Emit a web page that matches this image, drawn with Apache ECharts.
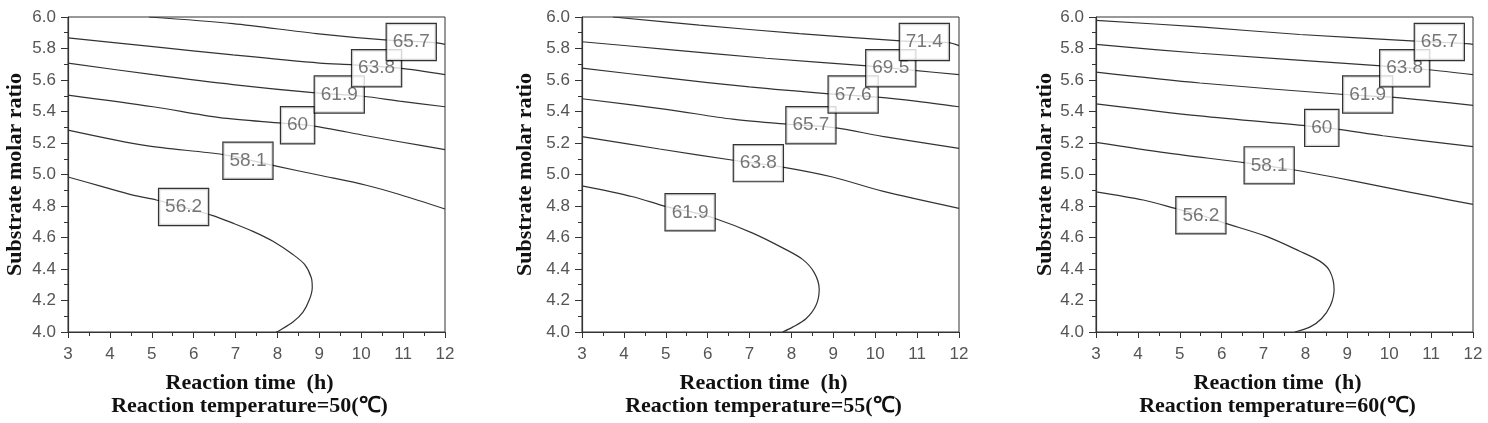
<!DOCTYPE html>
<html>
<head>
<meta charset="utf-8">
<script src="https://cdn.jsdelivr.net/npm/echarts@6/dist/echarts.min.js"></script>
<style>
  html, body { margin: 0; padding: 0; background: #fff; }
  #main { width: 1488px; height: 423px; }
</style>
</head>
<body>
<div id="main"></div>
<script>
// 反应温度
var temps = [50, 55, 60];

// 50℃ 等高线
var levels50 = ['56.2', '58.1', '60', '61.9', '63.8', '65.7'];
var lines50 = [
    [[3, 4.984], [3.756, 4.928], [4.551, 4.869], [5.108, 4.838], [5.784, 4.790], [6.461, 4.739], [6.938, 4.691], [7.415, 4.639], [7.893, 4.576], [8.370, 4.492], [8.648, 4.429], [8.807, 4.346], [8.831, 4.283], [8.768, 4.209], [8.609, 4.126], [8.370, 4.063], [8.052, 4.010], [7.972, 4.0]],
    [[3, 5.282], [4.870, 5.183], [6.739, 5.125], [7.972, 5.053], [9.006, 4.995], [10.120, 4.932], [10.916, 4.873], [12, 4.781]],
    [[3, 5.504], [5.029, 5.430], [6.62, 5.361], [8.115, 5.326], [8.847, 5.309], [10.12, 5.246], [10.916, 5.208], [12, 5.158]],
    [[3, 5.707], [5.029, 5.634], [6.938, 5.571], [8.911, 5.518], [10.04, 5.497], [10.916, 5.466], [12, 5.430]],
    [[3, 5.868], [5.029, 5.812], [6.938, 5.759], [9.006, 5.707], [9.818, 5.696], [10.916, 5.675], [12, 5.634]],
    [[4.93, 6.0], [6.938, 5.958], [8.927, 5.895], [10.637, 5.853], [11.751, 5.837], [12, 5.826]]
];
var labels50 = [[5.76, 4.794], [7.296, 5.087], [8.481, 5.313], [9.476, 5.508], [10.367, 5.675], [11.194, 5.841]];

// 55℃ 等高线
var levels55 = ['61.9', '63.8', '65.7', '67.6', '69.5', '71.4'];
var lines55 = [
    [[3, 4.928], [4.215, 4.859], [5.01, 4.796], [5.58, 4.764], [6.161, 4.722], [7.075, 4.628], [7.790, 4.534], [8.266, 4.461], [8.544, 4.377], [8.663, 4.272], [8.584, 4.168], [8.346, 4.084], [8.028, 4.031], [7.790, 4.0]],
    [[3, 5.240], [4.851, 5.162], [6.654, 5.089], [7.790, 5.047], [8.981, 4.984], [10.172, 4.894], [12, 4.785]],
    [[3, 5.481], [5.01, 5.414], [6.598, 5.351], [7.909, 5.319], [9.021, 5.298], [10.172, 5.242], [12, 5.166]],
    [[3, 5.675], [5.01, 5.613], [6.995, 5.556], [8.902, 5.512], [10.053, 5.491], [10.967, 5.466], [12, 5.430]],
    [[3, 5.843], [5.01, 5.795], [7.392, 5.738], [9.815, 5.690], [10.927, 5.661], [12, 5.634]],
    [[3.739, 6.0], [5.804, 5.948], [8.187, 5.895], [10.609, 5.849], [11.745, 5.837], [12, 5.818]]
];
var labels55 = [[5.581, 4.760], [7.210, 5.072], [8.465, 5.313], [9.473, 5.508], [10.371, 5.675], [11.173, 5.841]];

// 60℃ 等高线
var levels60 = ['56.2', '58.1', '60', '61.9', '63.8', '65.7'];
var lines60 = [
    [[3, 4.890], [4.129, 4.838], [4.940, 4.781], [5.504, 4.741], [6.076, 4.691], [7.070, 4.607], [7.865, 4.513], [8.342, 4.450], [8.580, 4.387], [8.684, 4.272], [8.596, 4.168], [8.382, 4.084], [8.103, 4.031], [7.746, 4.0]],
    [[3, 5.204], [4.685, 5.137], [6.577, 5.074], [7.706, 5.030], [8.660, 4.984], [9.852, 4.921], [11.045, 4.859], [12, 4.810]],
    [[3, 5.449], [5.480, 5.372], [8.024, 5.309], [8.755, 5.288], [9.852, 5.246], [12, 5.177]],
    [[3, 5.650], [5.480, 5.581], [8.922, 5.508], [10.051, 5.491], [11.045, 5.466], [12, 5.439]],
    [[3, 5.826], [5.480, 5.770], [9.812, 5.690], [10.925, 5.665], [12, 5.634]],
    [[3, 5.979], [5.480, 5.937], [7.865, 5.889], [10.631, 5.847], [11.760, 5.832], [12, 5.826]]
];
var labels60 = [[5.504, 4.741], [7.134, 5.058], [8.390, 5.296], [9.486, 5.508], [10.369, 5.675], [11.196, 5.841]];

var panels = [
    {levels: levels50, lines: lines50, labels: labels50},
    {levels: levels55, lines: lines55, labels: labels55},
    {levels: levels60, lines: lines60, labels: labels60}
];

var gridLefts = [68, 582, 1096];
var yNameGaps = [42, 46, 40];

var chart = echarts.init(document.getElementById('main'));

var grids = [], xAxes = [], yAxes = [], series = [];

for (var i = 0; i < panels.length; i++) {
    grids.push({
        left: gridLefts[i],
        top: 17,
        width: 377,
        height: 318,
        show: true,
        borderColor: '#333',
        borderWidth: 1,
        backgroundColor: 'transparent'
    });
    xAxes.push({
        gridIndex: i,
        type: 'value',
        min: 3,
        max: 12,
        interval: 1,
        name: 'Reaction time  (h)\nReaction temperature=' + temps[i] + '(℃)',
        nameLocation: 'middle',
        nameGap: 40,
        nameTextStyle: {
            fontFamily: 'Liberation Serif',
            fontWeight: 'bold',
            fontSize: 22,
            color: '#111',
            lineHeight: 23,
            padding: [0, 14, 0, 0]
        },
        axisLine: {lineStyle: {color: '#333', width: 1.2}},
        axisTick: {length: 6, lineStyle: {color: '#333'}},
        minorTick: {show: true, splitNumber: 2, length: 4, lineStyle: {color: '#333'}},
        splitLine: {show: false},
        axisLabel: {margin: 14, fontFamily: 'Liberation Sans', fontSize: 17, color: '#555'}
    });
    yAxes.push({
        gridIndex: i,
        type: 'value',
        min: 4,
        max: 6,
        interval: 0.2,
        name: 'Substrate molar ratio',
        nameLocation: 'middle',
        nameGap: yNameGaps[i],
        nameTextStyle: {
            fontFamily: 'Liberation Serif',
            fontWeight: 'bold',
            fontSize: 22,
            color: '#111'
        },
        axisLine: {lineStyle: {color: '#333', width: 1.2}},
        axisTick: {length: 7, lineStyle: {color: '#333'}},
        minorTick: {show: true, splitNumber: 2, length: 4, lineStyle: {color: '#333'}},
        splitLine: {show: false},
        axisLabel: {
            margin: 12,
            fontFamily: 'Liberation Sans',
            fontSize: 17,
            color: '#555',
            formatter: function (v) { return v.toFixed(1); }
        }
    });

    var p = panels[i];
    for (var j = 0; j < p.lines.length; j++) {
        series.push({
            type: 'line',
            xAxisIndex: i,
            yAxisIndex: i,
            data: p.lines[j],
            smooth: 0.3,
            symbol: 'none',
            lineStyle: {color: '#333', width: 1.2},
            z: 2,
            silent: true
        });
    }
    // 等高线数值标签
    var labelData = [];
    for (var k = 0; k < p.labels.length; k++) {
        labelData.push({value: p.labels[k], name: p.levels[k]});
    }
    series.push({
        type: 'scatter',
        xAxisIndex: i,
        yAxisIndex: i,
        data: labelData,
        symbolSize: 1,
        itemStyle: {color: 'rgba(0,0,0,0)'},
        z: 5,
        silent: true,
        label: {
            show: true,
            position: 'inside',
            formatter: '{b}',
            fontFamily: 'Liberation Sans',
            fontSize: 19,
            lineHeight: 20,
            color: '#555',
            backgroundColor: '#fff',
            borderColor: '#000',
            borderWidth: 1.2,
            padding: [8, 6]
        }
    });
}

chart.setOption({
    animation: false,
    grid: grids,
    xAxis: xAxes,
    yAxis: yAxes,
    series: series
});
</script>
</body>
</html>
